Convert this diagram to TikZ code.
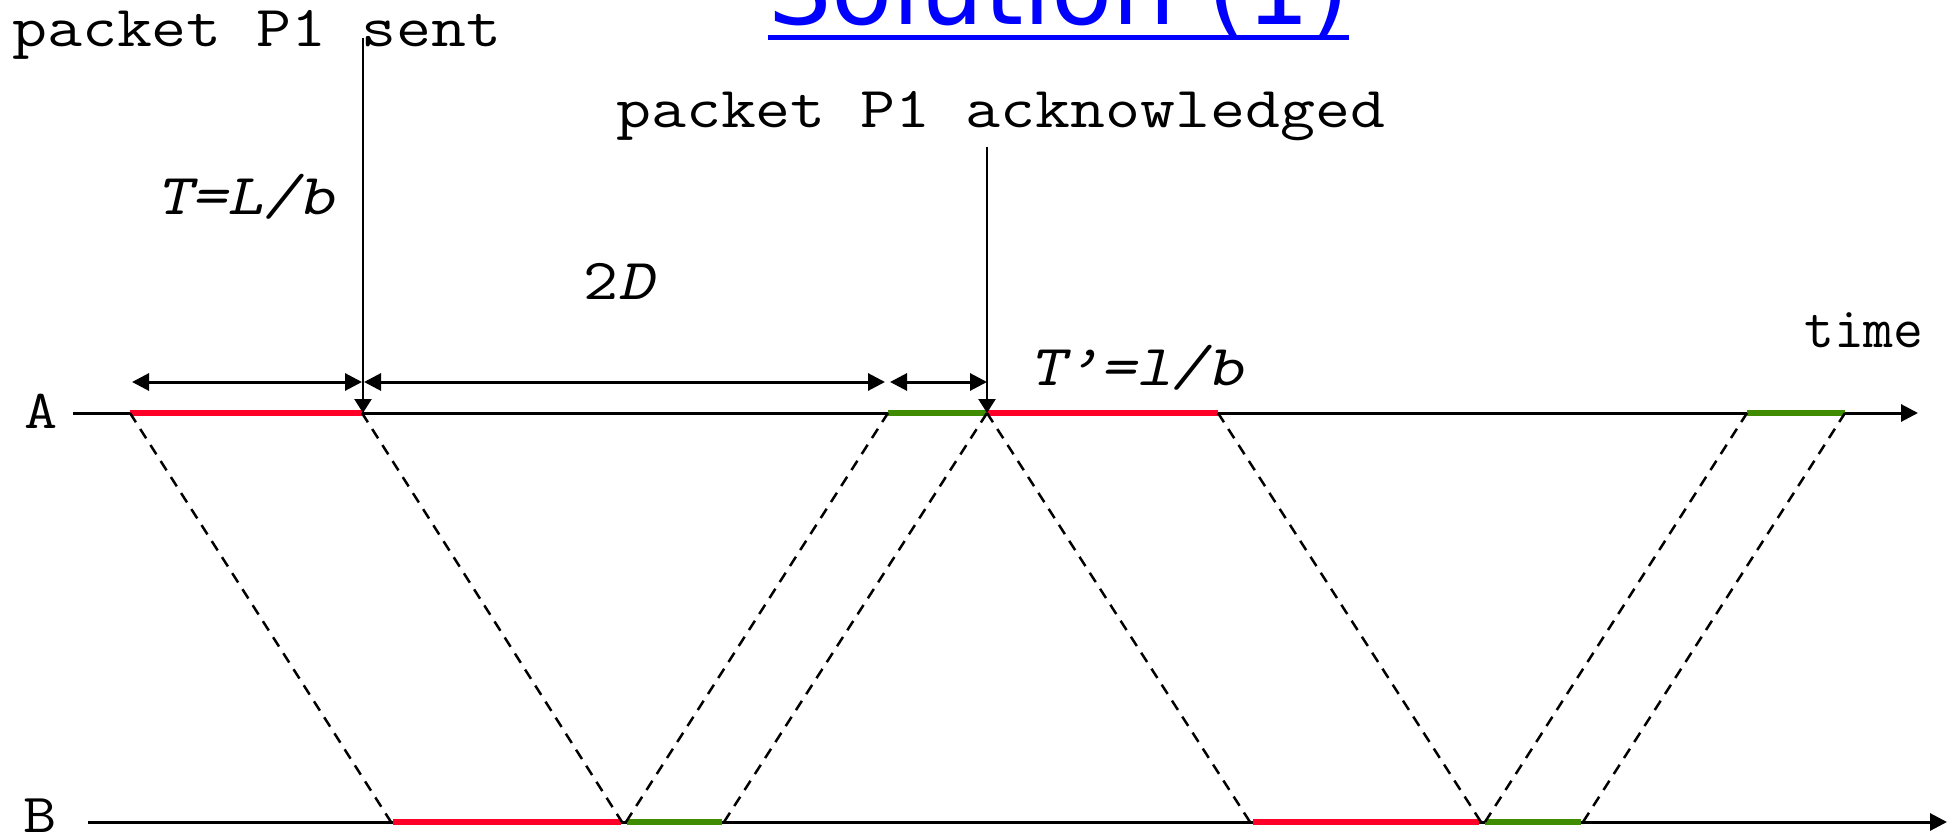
\documentclass[tikz,border=0pt]{standalone}
\usepackage{fontspec}
\usepackage{graphicx}
\newfontfamily\titlefont{DejaVu Sans}
\newfontfamily\obmono{lmmono10-regular.otf}[FakeSlant=0.2]
\usetikzlibrary{arrows.meta}
\definecolor{pktred}{RGB}{255,0,40}
\definecolor{ackgreen}{RGB}{64,140,0}
\definecolor{titleblue}{RGB}{0,0,255}
\newcommand{\wide}[1]{\scalebox{1.17}[1]{#1}}
\begin{document}
\begin{tikzpicture}[x=1pt,y=-1pt,
  axisline/.style={line width=3pt,-{Triangle[length=17pt,width=17pt]}},
  redbar/.style={line width=6pt,pktred},
  greenbar/.style={line width=6pt,ackgreen},
  sig/.style={line width=2.5pt,dash pattern=on 11pt off 8pt},
  dimarrow/.style={line width=3pt,{Triangle[length=17pt,width=17pt]}-{Triangle[length=17pt,width=17pt]}},
  markarrow/.style={line width=2.5pt,-{Triangle[length=14pt,width=17pt]}},
  lbl/.style={font={\ttfamily\fontsize{58}{68}\selectfont},inner sep=0pt,anchor=base west},
  ilbl/.style={font={\obmono\fontsize{58}{68}\selectfont},inner sep=0pt,anchor=base west},
  axlbl/.style={font={\ttfamily\fontsize{55}{65}\selectfont},inner sep=0pt,anchor=center}]
\useasboundingbox (0,0) rectangle (1954,834);
\clip (0,0) rectangle (1954,834);
% title
\node[font={\titlefont\fontsize{100}{110}\selectfont},text=titleblue,anchor=base west,inner sep=0pt] (title) at (768,25) {Solution (1)};
\draw[titleblue,line width=5pt] ([yshift=-13pt]title.base west) -- ([yshift=-13pt]title.base east);
% axes
\coordinate (A0) at (73,413);   \coordinate (Aend) at (1918,413);
\coordinate (B0) at (88,822);   \coordinate (Bend) at (1947,822);
\node[axlbl] (labA) at (41,411) {\wide{A}};
\node[axlbl] (labB) at (40,816) {\wide{B}};
\draw[axisline] (A0) -- (Aend);
\draw[axisline] (B0) -- (Bend);
% events on A
\coordinate (a1) at (130,413);
\coordinate (a2) at (362,413);
\coordinate (a3) at (888,413);
\coordinate (a4) at (987,413);
\coordinate (a5) at (1218,413);
\coordinate (a6) at (1747,413);
\coordinate (a7) at (1845,413);
% events on B
\coordinate (b1) at (393,822);
\coordinate (b2) at (621,822);
\coordinate (b3) at (627,822);
\coordinate (b4) at (722,822);
\coordinate (b5) at (1253,822);
\coordinate (b6) at (1479,822);
\coordinate (b7) at (1485,822);
\coordinate (b8) at (1581,822);
% bars
\draw[redbar] (a1) -- (a2);
\draw[greenbar] (a3) -- (a4);
\draw[redbar] (a4) -- (a5);
\draw[greenbar] (a6) -- (a7);
\draw[redbar] (b1) -- (b2);
\draw[greenbar] (b3) -- (b4);
\draw[redbar] (b5) -- (b6);
\draw[greenbar] (b7) -- (b8);
% signals
\draw[sig] (a1) -- ([xshift=-2pt]b1);
\draw[sig] (a2) -- ([xshift=1pt]b2);
\draw[sig] ([xshift=-1pt]b3) -- (a3);
\draw[sig] ([xshift=2pt]b4) -- (a4);
\draw[sig] (a4) -- ([xshift=-3pt]b5);
\draw[sig] (a5) -- ([xshift=2pt]b6);
\draw[sig] (b7) -- (a6);
\draw[sig] ([xshift=2pt]b8) -- (a7);
% dimension arrows
\coordinate (d1) at (132,382);
\coordinate (d2) at (362,382);
\coordinate (d3) at (364,382);
\coordinate (d4) at (885,382);
\coordinate (d5) at (890,382);
\coordinate (d6) at (987,382);
\draw[dimarrow] (d1) -- (d2);
\draw[dimarrow] (d3) -- (d4);
\draw[dimarrow] (d5) -- (d6);
% markers
\coordinate (s0) at (363,38);
\coordinate (s1) at (363,413);
\coordinate (k0) at (987,147);
\coordinate (k1) at (987,413);
\draw[markarrow] (s0) -- (s1);
\draw[markarrow] (k0) -- (k1);
% texts
\node[lbl] (sent) at (12,47) {\wide{packet P1 sent}};
\node[lbl] (ack) at (616,128) {\wide{packet P1 acknowledged}};
\node[ilbl] (tlb) at (156,215) {\wide{T=L/b}};
\node[lbl] (twod) at (583,300) {\wide{2{\obmono D}}};
\node[ilbl] (tplb) at (1029,385) {\wide{T’=l/b}};
\node[lbl] (time) at (1804,347) {time};
\end{tikzpicture}
\end{document}
